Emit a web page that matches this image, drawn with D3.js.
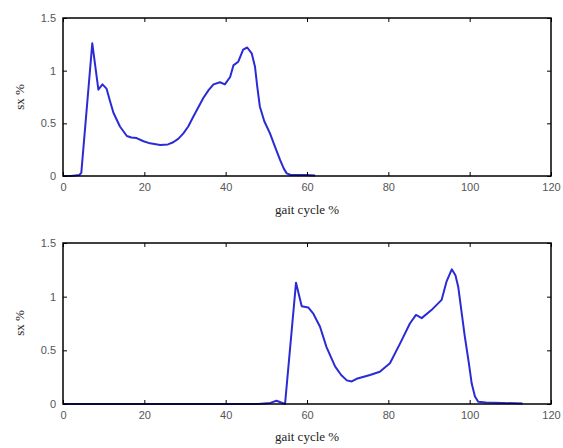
<!DOCTYPE html>
<html><head><meta charset="utf-8">
<script src="https://cdn.jsdelivr.net/npm/d3@7"></script>
<style>body{margin:0;background:#fff}svg{display:block}</style>
</head><body>
<script>
const xTicks = [0, 20, 40, 60, 80, 100, 120];
const yTicks = [0, 0.5, 1, 1.5];
const yTickLabels = ["0", "0.5", "1", "1.5"];
const xLabel = "gait cycle %";
const yLabel = "sx %";

const topX = [0, 2, 4, 4.5, 7.2, 8.7, 9.7, 10.7, 11.5, 12.4, 14, 15.7, 16.8, 18.1, 19.8, 21.4, 23.9, 25.8, 27.1, 28.4, 29.6, 30.8, 32.0, 34.5, 35.8, 37.0, 38.6, 39.8, 41.1, 41.9, 43.1, 44.3, 45.3, 46.4, 47.2, 47.8, 48.4, 49.5, 50.9, 52.0, 53.4, 54.3, 55, 56, 58, 60, 62];
const topY = [0, 0, 0.01, 0.03, 1.26, 0.82, 0.87, 0.83, 0.72, 0.6, 0.47, 0.38, 0.365, 0.36, 0.33, 0.31, 0.295, 0.3, 0.32, 0.355, 0.405, 0.47, 0.56, 0.74, 0.815, 0.87, 0.89, 0.87, 0.94, 1.05, 1.085, 1.2, 1.22, 1.165, 1.04, 0.84, 0.66, 0.52, 0.405, 0.29, 0.15, 0.07, 0.025, 0.01, 0.01, 0.01, 0.005];

const botX = [0, 10, 20, 30, 40, 48, 51, 52.5, 54.6, 57.3, 58.7, 60.3, 61.5, 63.2, 64.8, 66.9, 68.4, 69.8, 71.0, 72.2, 75.5, 77.9, 80.4, 82.9, 85.3, 86.8, 88.2, 90.6, 93.1, 94.3, 95.6, 96.5, 97.2, 98.8, 99.8, 100.5, 101.3, 102.1, 104, 108, 113];
const botY = [0, 0, 0, 0, 0, 0, 0.01, 0.03, 0, 1.13, 0.91, 0.90, 0.845, 0.72, 0.53, 0.35, 0.27, 0.22, 0.21, 0.235, 0.27, 0.30, 0.38, 0.565, 0.75, 0.83, 0.80, 0.875, 0.97, 1.14, 1.255, 1.2, 1.09, 0.63, 0.38, 0.19, 0.07, 0.02, 0.015, 0.01, 0.005];

const W = 563, H = 448;
const svg = d3.select("body").append("svg").attr("width", W).attr("height", H);

const panels = [
  {xs: topX, ys: topY, top: 18, bottom: 176, xLabelY: 214, yLabelY: 97},
  {xs: botX, ys: botY, top: 243, bottom: 404, xLabelY: 441, yLabelY: 323}
];
const left = 63, right = 551;

panels.forEach(p => {
  const x = d3.scaleLinear().domain([0, 120]).range([left, right]);
  const y = d3.scaleLinear().domain([0, 1.5]).range([p.bottom, p.top]);
  const g = svg.append("g");

  const line = d3.line().x((d, i) => x(p.xs[i])).y(d => y(d)).curve(d3.curveLinear);
  g.append("path").datum(p.ys).attr("d", line)
    .attr("fill", "none").attr("stroke", "#2b2bd6").attr("stroke-width", 2).attr("stroke-linejoin", "round");

  const fmtY = d => yTickLabels[yTicks.indexOf(d)];
  const ax = [
    d3.axisBottom(x).tickValues(xTicks).tickSize(-4).tickPadding(7).tickFormat(d3.format("d")),
    d3.axisTop(x).tickValues(xTicks).tickSize(-4).tickFormat(""),
    d3.axisLeft(y).tickValues(yTicks).tickSize(-4).tickPadding(7).tickFormat(fmtY),
    d3.axisRight(y).tickValues(yTicks).tickSize(-4).tickFormat("")
  ];
  const tr = [`translate(0,${p.bottom})`, `translate(0,${p.top})`, `translate(${left},0)`, `translate(${right},0)`];
  ax.forEach((a, i) => {
    const ag = g.append("g").attr("transform", tr[i]).call(a);
    ag.select(".domain").remove();
    ag.selectAll(".tick line").attr("stroke", "#000").attr("stroke-width", 1);
    ag.selectAll(".tick text").attr("fill", "#555").attr("font-family", "Liberation Sans, Arial, sans-serif").attr("font-size", 11);
  });
  g.append("rect").attr("x", left).attr("y", p.top).attr("width", right - left).attr("height", p.bottom - p.top)
    .attr("fill", "none").attr("stroke", "#000").attr("stroke-width", 1.5);

  g.append("text").attr("x", 307).attr("y", p.xLabelY).attr("text-anchor", "middle")
    .attr("font-family", "Liberation Serif, Times New Roman, serif").attr("font-size", 13).attr("fill", "#222").text(xLabel);
  g.append("text").attr("transform", `translate(24,${p.yLabelY}) rotate(-90)`).attr("text-anchor", "middle")
    .attr("font-family", "Liberation Serif, Times New Roman, serif").attr("font-size", 13).attr("fill", "#222").text(yLabel);
});
</script>
</body></html>
